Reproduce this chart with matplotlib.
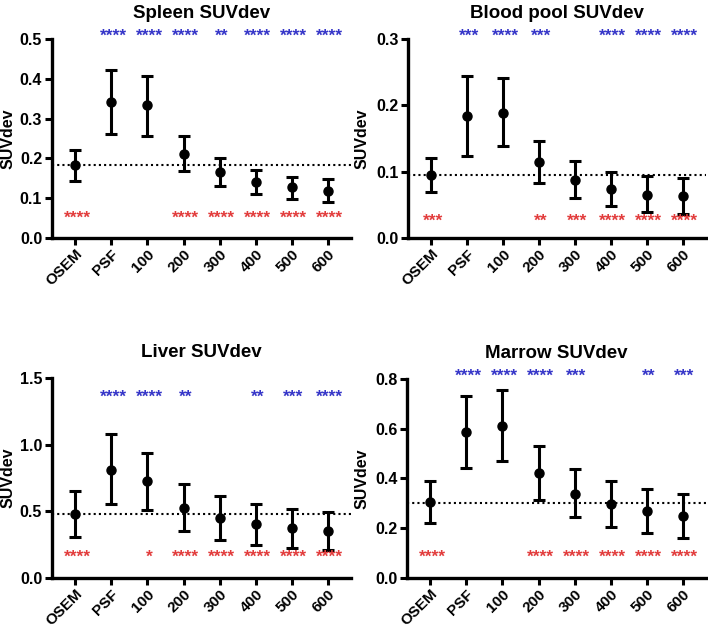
import matplotlib
matplotlib.use("Agg")
import matplotlib.pyplot as plt
import numpy as np

plt.rcParams['font.family'] = ['Liberation Sans', 'DejaVu Sans']
plt.rcParams['font.weight'] = 'bold'

categories = ["OSEM", "PSF", "100", "200", "300", "400", "500", "600"]

# Spleen
spleen_mean = [0.183, 0.342, 0.333, 0.212, 0.165, 0.140, 0.127, 0.119]
spleen_low = [0.144, 0.261, 0.257, 0.169, 0.131, 0.111, 0.099, 0.090]
spleen_high = [0.222, 0.422, 0.408, 0.256, 0.200, 0.172, 0.154, 0.147]
spleen_ref = 0.183
spleen_blue = ["", "****", "****", "****", "**", "****", "****", "****"]
spleen_red = ["****", "", "", "****", "****", "****", "****", "****"]

# Blood pool
blood_mean = [0.0945, 0.184, 0.189, 0.115, 0.088, 0.074, 0.065, 0.063]
blood_low = [0.069, 0.124, 0.138, 0.083, 0.060, 0.049, 0.039, 0.036]
blood_high = [0.120, 0.244, 0.241, 0.146, 0.116, 0.0995, 0.093, 0.0905]
blood_ref = 0.095
blood_blue = ["", "***", "****", "***", "", "****", "****", "****"]
blood_red = ["***", "", "", "**", "***", "****", "****", "****"]

# Liver
liver_mean = [0.48, 0.8125, 0.725, 0.525, 0.4475, 0.4025, 0.3725, 0.35]
liver_low = [0.31, 0.555, 0.5125, 0.355, 0.2875, 0.25, 0.225, 0.21]
liver_high = [0.653, 1.08, 0.9375, 0.705, 0.6175, 0.5575, 0.52, 0.4925]
liver_ref = 0.48
liver_blue = ["", "****", "****", "**", "", "**", "***", "****"]
liver_red = ["****", "", "*", "****", "****", "****", "****", "****"]

# Marrow
marrow_mean = [0.304, 0.585, 0.611, 0.421, 0.338, 0.297, 0.2675, 0.25]
marrow_low = [0.221, 0.443, 0.47, 0.313, 0.2435, 0.206, 0.18, 0.162]
marrow_high = [0.388, 0.73, 0.756, 0.531, 0.44, 0.39, 0.3585, 0.338]
marrow_ref = 0.30
marrow_blue = ["", "****", "****", "****", "***", "", "**", "***"]
marrow_red = ["****", "", "", "****", "****", "****", "****", "****"]

panels = [
    dict(title="Spleen SUVdev", mean=spleen_mean, low=spleen_low, high=spleen_high,
         ref=spleen_ref, blue=spleen_blue, red=spleen_red, ymax=0.5,
         ticks=[0.0, 0.1, 0.2, 0.3, 0.4, 0.5], fmt="{:.1f}", by=0.506, ry=0.05,
         rect=[0.0734, 0.6198, 0.4226, 0.3179], lx=-0.122),
    dict(title="Blood pool SUVdev", mean=blood_mean, low=blood_low, high=blood_high,
         ref=blood_ref, blue=blood_blue, red=blood_red, ymax=0.3,
         ticks=[0.0, 0.1, 0.2, 0.3], fmt="{:.1f}", by=0.304, ry=0.025,
         rect=[0.5763, 0.6198, 0.4209, 0.3179], lx=-0.128),
    dict(title="Liver SUVdev", mean=liver_mean, low=liver_low, high=liver_high,
         ref=liver_ref, blue=liver_blue, red=liver_red, ymax=1.5,
         ticks=[0.0, 0.5, 1.0, 1.5], fmt="{:.1f}", by=1.355, ry=0.155,
         rect=[0.0734, 0.0767, 0.4226, 0.3195], lx=-0.122),
    dict(title="Marrow SUVdev", mean=marrow_mean, low=marrow_low, high=marrow_high,
         ref=marrow_ref, blue=marrow_blue, red=marrow_red, ymax=0.8,
         ticks=[0.0, 0.2, 0.4, 0.6, 0.8], fmt="{:.1f}", by=0.81, ry=0.083,
         rect=[0.5749, 0.0767, 0.4223, 0.3179], lx=-0.125),
]

BLUE = "#3535c8"
RED = "#e23c3c"

fig = plt.figure(figsize=(7.08, 6.26), dpi=100)

for p in panels:
    ax = fig.add_axes(p["rect"])
    x = np.arange(len(categories))
    mean = np.array(p["mean"])
    yerr = np.vstack([mean - np.array(p["low"]), np.array(p["high"]) - mean])
    ax.errorbar(x, mean, yerr=yerr, fmt="o", color="black", ms=6.5, elinewidth=2.2,
                capsize=4.5, capthick=2.2, zorder=3)
    ax.axhline(p["ref"], color="black", linestyle=(0, (1, 1.5)), linewidth=1.5, zorder=2)
    for i in range(len(categories)):
        if p["blue"][i]:
            ax.text(x[i] + 0.05, p["by"], p["blue"][i], color=BLUE, ha="center", va="center",
                    fontsize=12.5, fontweight="bold", clip_on=False)
        if p["red"][i]:
            ax.text(x[i] + 0.05, p["ry"], p["red"][i], color=RED, ha="center", va="center",
                    fontsize=12.5, fontweight="bold", clip_on=False)
    ax.set_xlim(-0.65, 7.65)
    ax.set_ylim(0, p["ymax"])
    ax.set_yticks(p["ticks"])
    ax.set_yticklabels([p["fmt"].format(t) for t in p["ticks"]], fontsize=11.5, fontweight="bold")
    ax.set_xticks(x)
    ax.set_xticklabels(categories, rotation=45, ha="right", rotation_mode="anchor",
                       fontsize=11, fontweight="bold")
    ax.set_ylabel("SUVdev", fontsize=11.5, fontweight="bold")
    ax.yaxis.set_label_coords(p["lx"], 0.5)
    ax.set_title(p["title"], fontsize=13.5, fontweight="bold", pad=15)
    for s in ["top", "right"]:
        ax.spines[s].set_visible(False)
    for s in ["left", "bottom"]:
        ax.spines[s].set_linewidth(2.4)
    ax.tick_params(axis="y", direction="out", length=5, width=2.2, pad=2)
    ax.tick_params(axis="x", direction="out", length=5, width=2.2, pad=1.5)

fig.savefig("out.png", dpi=100)
